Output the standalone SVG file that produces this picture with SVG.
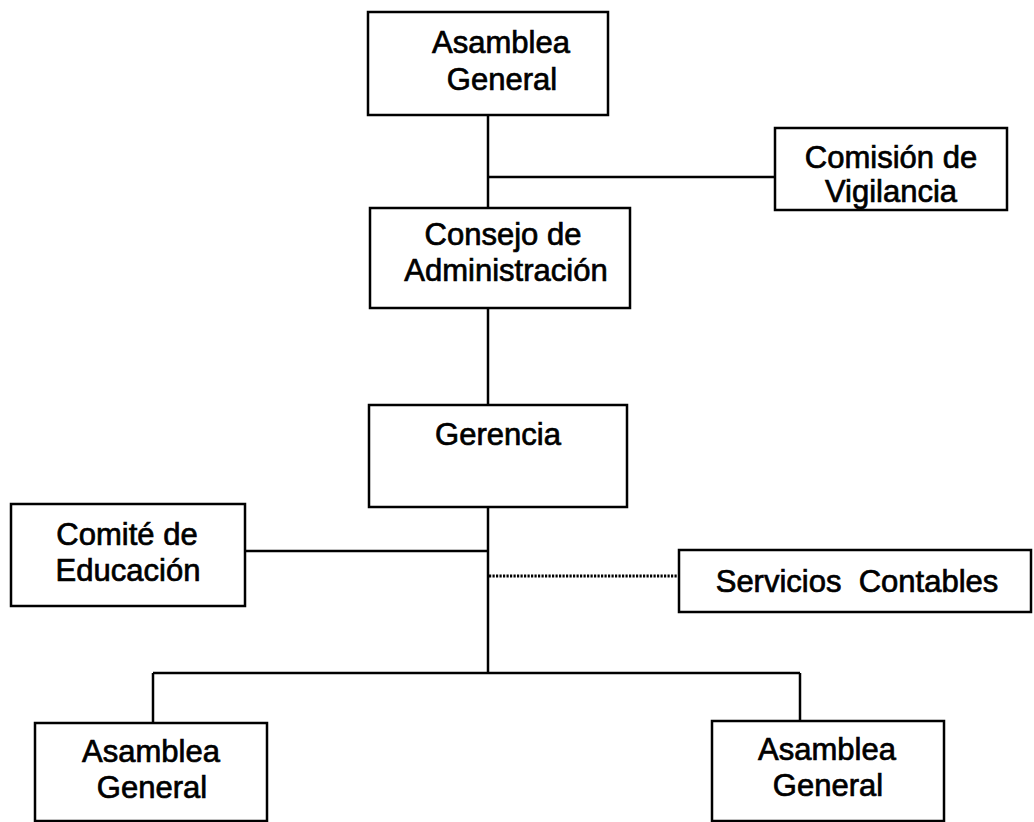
<svg xmlns="http://www.w3.org/2000/svg" width="1034" height="822" viewBox="0 0 1034 822">
<style>
.box{fill:#fff;stroke:#000;stroke-width:2.5}
.ln{fill:none;stroke:#000;stroke-width:2.5}
.dot{fill:none;stroke:#000;stroke-width:3;stroke-dasharray:2.2 1.3}
text{font-family:"Liberation Sans",Arial,sans-serif;font-size:31px;fill:#000;stroke:#000;stroke-width:0.7;text-anchor:middle}
</style>
<rect width="1034" height="822" fill="#fff"/>
<g id="connectors">
<line class="ln" x1="488" y1="115" x2="488" y2="208"/>
<line class="ln" x1="488" y1="177" x2="775" y2="177"/>
<line class="ln" x1="488" y1="308" x2="488" y2="405"/>
<line class="ln" x1="488" y1="507" x2="488" y2="673"/>
<line class="ln" x1="245" y1="551" x2="488" y2="551"/>
<line class="dot" x1="489" y1="576" x2="679" y2="576"/>
<line class="ln" x1="153" y1="673" x2="800" y2="673"/>
<line class="ln" x1="153" y1="673" x2="153" y2="723"/>
<line class="ln" x1="800" y1="673" x2="800" y2="721"/>
</g>
<g id="asamblea-top">
<rect class="box" x="368" y="12" width="240" height="103"/>
<text x="501" y="53">Asamblea</text>
<text x="502" y="90">General</text>
</g>
<g id="comision">
<rect class="box" x="775" y="128" width="232" height="82"/>
<text x="891" y="168">Comisión de</text>
<text x="891" y="202">Vigilancia</text>
</g>
<g id="consejo">
<rect class="box" x="370" y="208" width="260" height="100"/>
<text x="503" y="245">Consejo de</text>
<text x="506" y="281">Administración</text>
</g>
<g id="gerencia">
<rect class="box" x="369" y="405" width="258" height="102"/>
<text x="498" y="445">Gerencia</text>
</g>
<g id="comite">
<rect class="box" x="11" y="504" width="234" height="102"/>
<text x="127" y="545">Comité de</text>
<text x="128" y="581">Educación</text>
</g>
<g id="servicios">
<rect class="box" x="679" y="550" width="352" height="62"/>
<text x="857" y="592" xml:space="preserve">Servicios  Contables</text>
</g>
<g id="asamblea-left">
<rect class="box" x="35" y="723" width="232" height="98"/>
<text x="151" y="762">Asamblea</text>
<text x="152" y="798">General</text>
</g>
<g id="asamblea-right">
<rect class="box" x="712" y="721" width="232" height="100"/>
<text x="827" y="760">Asamblea</text>
<text x="828" y="796">General</text>
</g>
</svg>
